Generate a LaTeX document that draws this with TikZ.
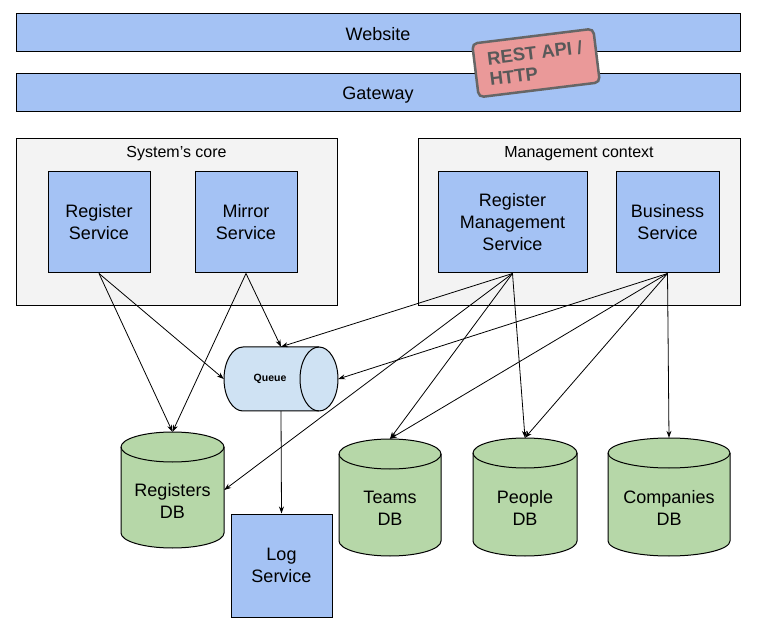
\documentclass[tikz,border=0pt]{standalone}
\usepackage{fontspec}
\setmainfont{Liberation Sans}
\usetikzlibrary{arrows.meta}
\definecolor{boxblue}{HTML}{A4C2F4}
\definecolor{ctxgray}{HTML}{F3F3F3}
\definecolor{dbgreen}{HTML}{B6D7A8}
\definecolor{qblue}{HTML}{CFE2F3}
\definecolor{salmon}{HTML}{EA9999}
\definecolor{badgeedge}{HTML}{666666}
\definecolor{badgetext}{HTML}{595959}
\tikzset{
  mainfont/.style={font=\fontsize{18}{22}\selectfont},
  bar/.style={draw, fill=boxblue, line width=1pt, minimum width=724pt, minimum height=38pt, inner sep=0, mainfont},
  ctx/.style={draw, fill=ctxgray, line width=1pt, inner sep=0, minimum height=167pt},
  ctxtitle/.style={inner sep=0, font=\fontsize{16}{19}\selectfont},
  svc/.style={draw, fill=boxblue, line width=1pt, inner sep=0, align=center, mainfont},
  dbbody/.style={draw, fill=dbgreen, line width=1pt},
  dbtext/.style={inner sep=0, align=center, mainfont},
  qbody/.style={draw, fill=qblue, line width=1pt},
  badge/.style={draw=badgeedge, fill=salmon, line width=2.5pt, rounded corners=5pt, minimum width=122pt, minimum height=54pt, align=left, text=badgetext, font=\fontsize{18.5}{21}\selectfont\bfseries},
  link/.style={-{Stealth[length=7pt,width=5pt]}, line width=0.8pt}
}
\newcommand\dbcyl[6]{%
  \pgfmathsetmacro\dbrx{(#3-#2)/2}%
  \pgfmathsetmacro\dbcx{(#3+#2)/2}%
  \pgfmathsetmacro\dbw{#3-#2}%
  \pgfmathsetmacro\dbh{#5-#4}%
  \pgfmathsetmacro\dbcy{(#5+#4)/2}%
  \pgfmathsetmacro\dbty{(#5-22+#4)/2}%
  \draw[dbbody] (#2,#5-15) -- (#2,#4+15) arc[start angle=180,end angle=360,x radius=\dbrx,y radius=15] -- (#3,#5-15) arc[start angle=0,end angle=180,x radius=\dbrx,y radius=15] -- cycle;
  \draw[line width=1pt] (#2,#5-15) arc[start angle=180,end angle=360,x radius=\dbrx,y radius=15];
  \node[inner sep=0, minimum width=\dbw pt, minimum height=\dbh pt] (#1) at (\dbcx,\dbcy) {};
  \node[dbtext] (#1-t) at (\dbcx,\dbty) {#6};
}
\begin{document}
\begin{tikzpicture}[x=1pt,y=1pt]
\useasboundingbox (0,0) rectangle (758,638);
\fill[white] (0,0) rectangle (758,638);

% top bars
\node[bar, text depth=0pt] (web) at (378,605.5) {\raisebox{-2pt}{Website}};
\node[bar, text depth=0pt] (gw) at (378,545.5) {\raisebox{-2pt}{Gateway}};
\node[badge, rotate=7] (api) at (536,575) {REST API /\\HTTP};

% contexts
\node[ctx, minimum width=321pt] (core) at (176.5,415.5) {};
\node[ctxtitle] (core-t) at (176.5,484) {System’s core};
\node[ctx, minimum width=322pt] (mgmt) at (579,415.5) {};
\node[ctxtitle] (mgmt-t) at (579,484) {Management context};

% services
\node[svc, minimum width=102pt, minimum height=101pt] (rs) at (99,415.5) {Register\\Service};
\node[svc, minimum width=102pt, minimum height=101pt] (ms) at (246,415.5) {Mirror\\Service};
\node[svc, minimum width=149pt, minimum height=101pt] (rms) at (512.5,415.5) {Register\\Management\\Service};
\node[svc, minimum width=103pt, minimum height=101pt] (bs) at (667.5,415.5) {Business\\Service};
\node[svc, minimum width=101pt, minimum height=103pt] (log) at (281.5,72.5) {Log\\Service};

% queue
\draw[qbody] (243,291) -- (319,291) arc[start angle=90,end angle=-90,x radius=19,y radius=32] -- (243,227) arc[start angle=270,end angle=90,x radius=19,y radius=32] -- cycle;
\draw[line width=1pt] (319,291) arc[start angle=90,end angle=270,x radius=19,y radius=32];
\node[inner sep=0, minimum width=114pt, minimum height=64pt] (queue) at (281,259) {};
\node[inner sep=0, font=\fontsize{10.5}{12}\selectfont\bfseries] (queue-t) at (270,259) {Queue};

% databases
\dbcyl{rdb}{121}{224}{90}{206}{Registers\\DB}
\dbcyl{tdb}{339}{441}{82}{199}{Teams\\DB}
\dbcyl{pdb}{473}{577}{82}{200}{People\\DB}
\dbcyl{cdb}{608}{730}{82}{200}{Companies\\DB}

% connectors
\draw[link] (rs.south) -- (rdb.north);
\draw[link] (rs.south) -- (queue.west);
\draw[link] (ms.south) -- (rdb.north);
\draw[link] (ms.south) -- (queue.north);
\draw[link] (rms.south) -- (queue.north);
\draw[link] (rms.south) -- (rdb.east);
\draw[link] (rms.south) -- (tdb.north);
\draw[link] (rms.south) -- (pdb.north);
\draw[link] (bs.south) -- (queue.east);
\draw[link] (bs.south) -- (tdb.north);
\draw[link] (bs.south) -- (pdb.north);
\draw[link] (bs.south) -- (cdb.north);
\draw[link] (queue.south) -- (log.north);
\end{tikzpicture}
\end{document}
